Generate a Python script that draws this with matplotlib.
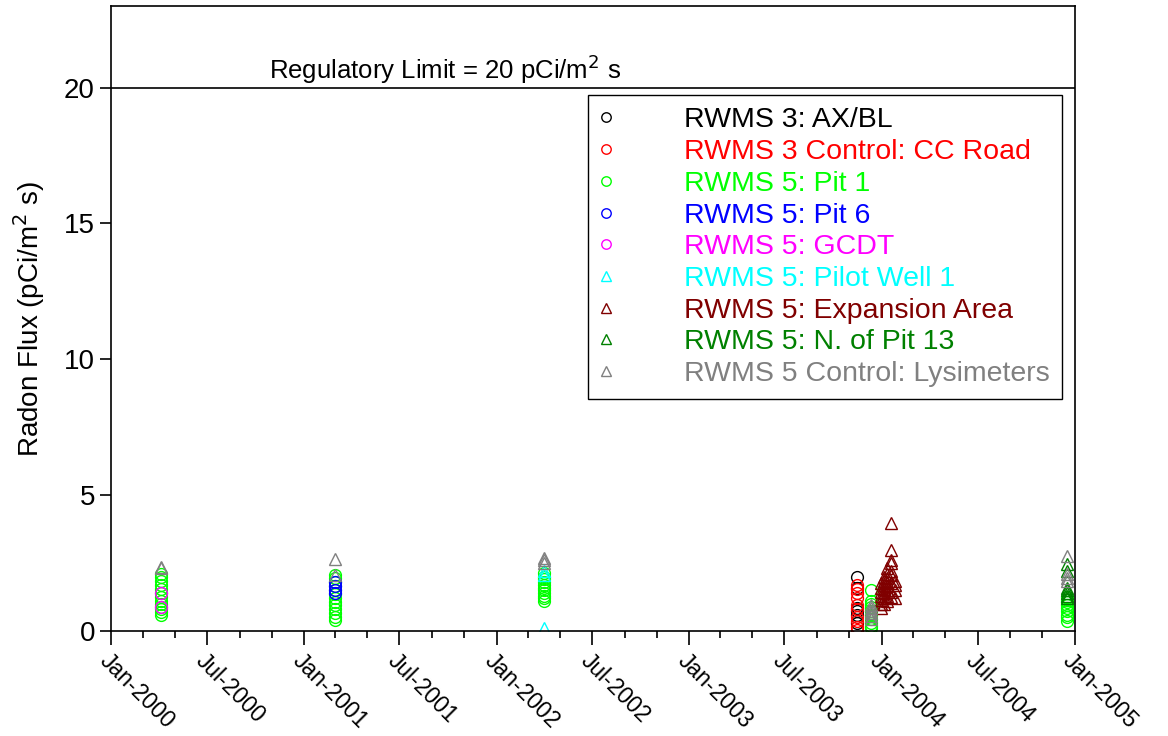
import numpy as np
import matplotlib.pyplot as plt
import matplotlib.dates as mdates
import pandas as pd

plt.rcParams['font.family'] = ['Liberation Sans', 'DejaVu Sans']

# sampling dates (x) and radon flux values (y), per station
axbl_dates = ['2003-11-15'] * 6
axbl_vals = [2.0, 1.6, 0.85, 0.75, 0.6, 0.3]

ccroad_dates = ['2003-11-15'] * 10
ccroad_vals = [1.7, 1.55, 1.4, 1.2, 0.95, 0.8, 0.5, 0.35, 0.15, 0.05]

pit1_dates = (['2000-04-05'] * 13 + ['2001-02-28'] * 13 + ['2002-04-01'] * 11
              + ['2003-12-12'] * 10 + ['2004-12-17'] * 9)
pit1_vals = [0.6, 0.7, 0.8, 0.9, 1.0, 1.1, 1.25, 1.4, 1.55, 1.7, 1.85, 2.0, 2.1,
             0.4, 0.5, 0.65, 0.8, 0.95, 1.05, 1.2, 1.35, 1.5, 1.65, 1.8, 1.95, 2.05,
             1.1, 1.2, 1.3, 1.4, 1.5, 1.6, 1.7, 1.8, 1.9, 2.0, 2.15,
             0.1, 0.2, 0.3, 0.45, 0.6, 0.75, 0.9, 1.0, 1.1, 1.5,
             0.35, 0.5, 0.6, 0.75, 0.85, 0.95, 1.05, 1.15, 1.25]

pit6_dates = ['2001-02-28'] * 4
pit6_vals = [1.8, 1.65, 1.5, 1.4]

gcdt_dates = ['2000-04-05'] * 2
gcdt_vals = [1.4, 0.9]

pilot_dates = ['2002-04-01'] * 3
pilot_vals = [2.2, 2.05, 0.1]

expan_dates = (['2003-12-31'] * 7 + ['2004-01-06'] * 7 + ['2004-01-12'] * 8
               + ['2004-01-19'] * 9 + ['2004-01-26'] * 4)
expan_vals = [0.85, 1.0, 1.15, 1.3, 1.45, 1.6, 1.75,
              1.0, 1.2, 1.4, 1.55, 1.7, 1.85, 2.0,
              1.1, 1.3, 1.5, 1.65, 1.8, 1.95, 2.1, 2.3,
              1.25, 1.45, 1.75, 2.05, 2.2, 2.5, 2.6, 2.98, 3.97,
              1.2, 1.5, 1.7, 1.85]

pit13_dates = ['2004-12-17'] * 7
pit13_vals = [2.45, 2.2, 1.6, 1.5, 1.4, 1.3, 1.2]

lysi_dates = (['2000-04-05'] * 2 + ['2001-02-28'] * 2 + ['2002-04-01'] * 3
              + ['2003-12-12'] * 6 + ['2004-12-17'] * 4)
lysi_vals = [2.35, 2.3,
             2.65, 2.05,
             2.7, 2.6, 2.5,
             0.95, 0.85, 0.75, 0.65, 0.55, 0.45,
             2.75, 2.1, 1.95, 1.85]

series = [
    ('RWMS 3: AX/BL', axbl_dates, axbl_vals, 'o', 'black'),
    ('RWMS 3 Control: CC Road', ccroad_dates, ccroad_vals, 'o', 'red'),
    ('RWMS 5: Pit 1', pit1_dates, pit1_vals, 'o', '#00ff00'),
    ('RWMS 5: Pit 6', pit6_dates, pit6_vals, 'o', 'blue'),
    ('RWMS 5: GCDT', gcdt_dates, gcdt_vals, 'o', 'magenta'),
    ('RWMS 5: Pilot Well 1', pilot_dates, pilot_vals, '^', 'cyan'),
    ('RWMS 5: Expansion Area', expan_dates, expan_vals, '^', '#800000'),
    ('RWMS 5: N. of Pit 13', pit13_dates, pit13_vals, '^', 'green'),
    ('RWMS 5 Control: Lysimeters', lysi_dates, lysi_vals, '^', 'gray'),
]

fig = plt.figure(figsize=(11.68, 7.36), dpi=100)
ax = fig.add_axes([0.095, 0.1427, 0.825, 0.849])

for label, d, v, m, c in series:
    ax.plot(pd.to_datetime(d), v, m, mfc='none', mec=c, ms=8.5, mew=1.0, label=label)

# regulatory limit
ax.axhline(20, color='black', linewidth=1.2)
ax.text(pd.Timestamp('2001-09-25'), 20.33, 'Regulatory Limit = 20 pCi/m$^2$ s',
        fontsize=18.5, ha='center', va='baseline')

ax.set_xlim(pd.Timestamp('2000-01-01'), pd.Timestamp('2005-01-01'))
ax.set_ylim(0, 23)
ax.set_yticks([0, 5, 10, 15, 20])
ax.set_ylabel('Radon Flux (pCi/m$^2$ s)', fontsize=20, labelpad=12)

ax.xaxis.set_major_locator(mdates.MonthLocator(bymonth=[1, 7]))
ax.xaxis.set_minor_locator(mdates.MonthLocator(bymonth=[3, 5, 9, 11]))
ax.xaxis.set_major_formatter(mdates.DateFormatter('%b-%Y'))
ax.tick_params(axis='x', which='major', length=10, width=1.2, labelsize=16.5, pad=3)
ax.tick_params(axis='x', which='minor', length=5, width=1.2)
ax.tick_params(axis='y', which='major', length=8, width=1.2, labelsize=20)
for lbl in ax.get_xticklabels():
    lbl.set_rotation(-45)
    lbl.set_ha('left')
    lbl.set_va('top')
    lbl.set_rotation_mode('anchor')

for sp in ax.spines.values():
    sp.set_linewidth(1.2)

leg = ax.legend(loc='upper left', bbox_to_anchor=(0.495, 0.857), fontsize=20.5,
                frameon=True, fancybox=False, edgecolor='black', framealpha=1,
                markerscale=0.8, handletextpad=2.55, labelspacing=0.2,
                borderpad=0.42, handlelength=0.4, borderaxespad=0)
leg.get_frame().set_linewidth(1.0)
for txt, s in zip(leg.get_texts(), series):
    txt.set_color(s[4])

fig.savefig('out.png', dpi=100)
